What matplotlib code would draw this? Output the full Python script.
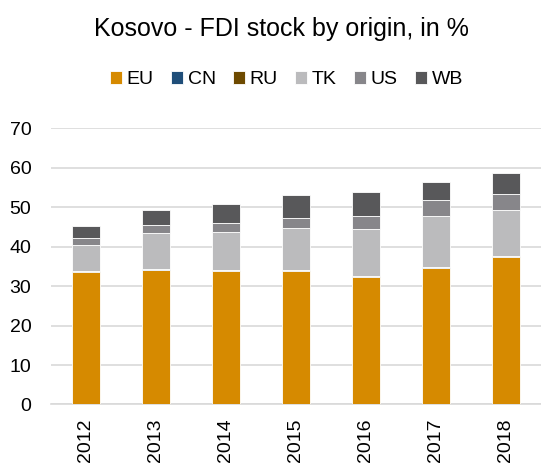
import numpy as np
import matplotlib
matplotlib.use('Agg')
import matplotlib.pyplot as plt

plt.rcParams['font.family'] = ['Liberation Sans', 'DejaVu Sans']

years = ['2012', '2013', '2014', '2015', '2016', '2017', '2018']
series = ['EU', 'CN', 'RU', 'TK', 'US', 'WB']
eu = [33.5, 34.1, 33.8, 33.8, 32.3, 34.7, 37.3]
cn = [0.1, 0.1, 0.1, 0.1, 0.1, 0.1, 0.1]
ru = [0.1, 0.1, 0.1, 0.1, 0.1, 0.1, 0.1]
tk = [6.8, 9.2, 9.8, 10.6, 11.9, 12.8, 11.7]
us = [1.7, 2.0, 2.2, 2.7, 3.3, 4.0, 4.1]
wb = [3.0, 3.8, 4.8, 5.7, 6.0, 4.7, 5.4]
colors = ['#D68A00', '#1F4E79', '#6E4A00', '#BBBBBD', '#87868A', '#58585A']

fig = plt.figure(figsize=(5.41, 4.66), dpi=100)
ax = fig.add_axes([0.094, 0.132, 0.906, 0.593])

x = np.arange(len(years))
bottom = np.zeros(len(years))
for name, vals, c in zip(series, [eu, cn, ru, tk, us, wb], colors):
    ax.bar(x, vals, width=0.4, bottom=bottom, color=c, label=name,
           edgecolor='white', linewidth=0.6, zorder=3)
    bottom += np.array(vals)

ax.set_ylim(0, 70)
ax.set_xlim(-0.5, len(years) - 0.5)
ax.set_yticks(range(0, 71, 10))
ax.set_xticks(x)
ax.set_xticklabels(years, rotation=90)
ax.tick_params(axis='both', labelsize=14, length=0, colors='black')
ax.tick_params(axis='y', pad=14)
ax.tick_params(axis='x', pad=10)
ax.grid(axis='y', color='#D9D9D9', linewidth=1.2, zorder=0)
for s in ['top', 'right', 'left']:
    ax.spines[s].set_visible(False)
ax.spines['bottom'].set_color('#D9D9D9')
ax.spines['bottom'].set_linewidth(1.2)

fig.text(0.52, 0.938, 'Kosovo - FDI stock by origin, in %', ha='center', va='center', fontsize=18)
fig.legend(loc='center', bbox_to_anchor=(0.53, 0.829), ncol=6, frameon=False,
           fontsize=14, handlelength=0.6, handleheight=0.6, handletextpad=0.25,
           columnspacing=0.9, borderaxespad=0)

fig.savefig('out.png', dpi=100)
